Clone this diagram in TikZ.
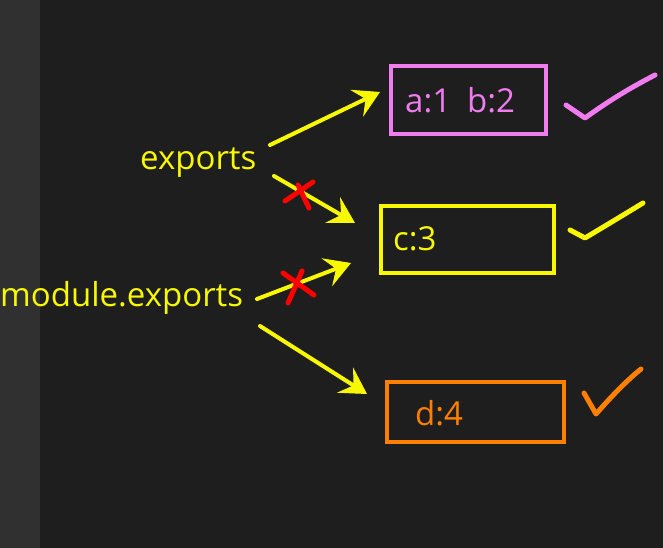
\documentclass[tikz,border=0pt]{standalone}
\usepackage{fontspec}
\setmainfont{Open Sans}
\usetikzlibrary{arrows.meta}
\definecolor{bg}{HTML}{1E1E1E}
\definecolor{gutter}{HTML}{303030}
\definecolor{pinkc}{HTML}{F07CF0}
\definecolor{yelc}{HTML}{F8F800}
\definecolor{orac}{HTML}{FF8000}
\definecolor{redc}{HTML}{FF0000}
\begin{document}
\begin{tikzpicture}[x=1pt,y=-1pt,
  box/.style={draw,line width=4pt,minimum width=#1,inner sep=0pt},
  txt/.style={font=\fontsize{33}{38}\selectfont,anchor=base west,inner sep=0pt},
  arr/.style={draw=yelc,line width=4pt,line cap=round,-{Stealth[length=26pt 0,width=30pt 0,inset=10pt 0,line width=1pt]}},
  penmark/.style={line width=5pt,line cap=round,line join=round},
]
\fill[bg] (0,0) rectangle (663,548);
\fill[gutter] (0,0) rectangle (40,548);
\useasboundingbox (0,0) rectangle (663,548);
% boxes
\node[box=155pt,draw=pinkc,minimum height=68pt] (ab) at (468.5,100) {};
\node[box=173pt,draw=yelc,minimum height=67pt] (c) at (467.5,239.5) {};
\node[box=177pt,draw=orac,minimum height=60pt] (d) at (475.5,412) {};
% texts
\node[txt,text=pinkc] (abt) at (405,113) {a:1\hskip 16pt b:2};
\node[txt,text=yelc] (ct) at (393,250) {c:3};
\node[txt,text=orac] (dt) at (415,425) {d:4};
\node[txt,text=yelc] (ex) at (140,170) {exports};
\node[txt,text=yelc] (mex) at (0,306) {module.exports};
% arrow end points
\coordinate (s1) at (270,145); \coordinate (e1) at (380,92);
\coordinate (s2) at (274,176); \coordinate (e2) at (355,223);
\coordinate (s3) at (257,299); \coordinate (e3) at (351,263);
\coordinate (s4) at (260,326); \coordinate (e4) at (367,394);
\draw[arr] (s1) -- (e1);
\draw[arr] (s2) -- (e2);
\draw[arr] (s3) -- (e3);
\draw[arr] (s4) -- (e4);
% red crosses
\draw[penmark,redc] (285,201) -- (313,182) (298,185) -- (309,208);
\draw[penmark,redc] (283,273) -- (314,295) (302,271) -- (288,303);
% checks
\draw[penmark,pinkc] (566,105) -- (585,118) .. controls (610,100) and (630,88) .. (655,75);
\draw[penmark,yelc] (570,230) -- (585,238) .. controls (605,226) and (625,214) .. (643,203);
\draw[penmark,orac] (584,393) -- (596,414) .. controls (610,398) and (625,382) .. (641,369);
\end{tikzpicture}
\end{document}
